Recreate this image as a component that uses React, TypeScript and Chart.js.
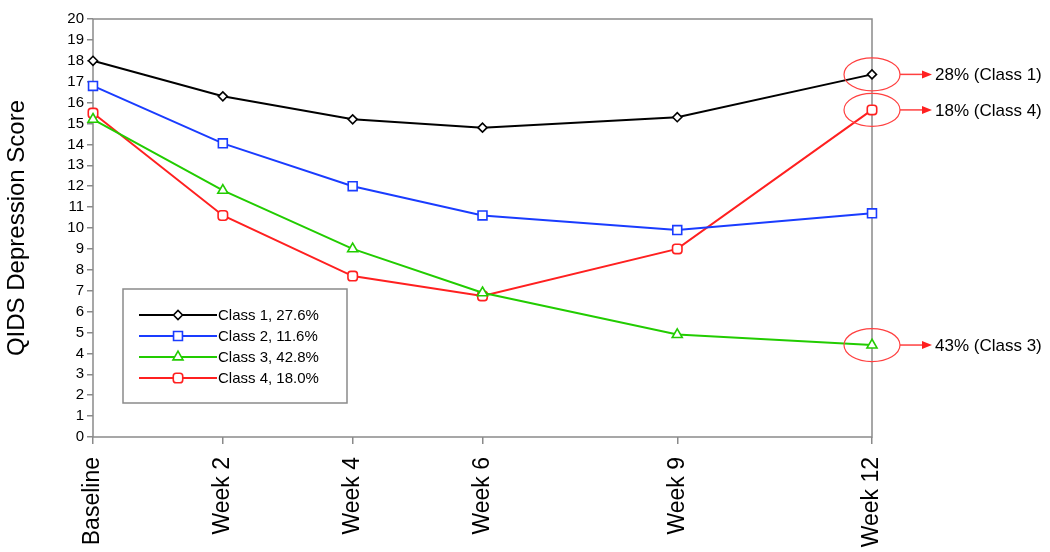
import React, { useEffect, useRef } from 'react';
import { Chart, registerables } from 'chart.js';
import { drawPoint } from 'chart.js/helpers';

Chart.register(...registerables);

const weeks = [0, 2, 4, 6, 9, 12];
const weekLabels = ['Baseline', 'Week 2', 'Week 4', 'Week 6', 'Week 9', 'Week 12'];
const class1 = [18.0, 16.3, 15.2, 14.8, 15.3, 17.35];
const class2 = [16.8, 14.05, 12.0, 10.6, 9.9, 10.7];
const class3 = [15.2, 11.8, 9.0, 6.9, 4.9, 4.4];
const class4 = [15.5, 10.6, 7.7, 6.75, 9.0, 15.65];
const seriesLabels = ['Class 1, 27.6%', 'Class 2, 11.6%', 'Class 3, 42.8%', 'Class 4, 18.0%'];
const callouts = ['28% (Class 1)', '18% (Class 4)', '43% (Class 3)'];
const calloutSeries = [0, 3, 2];
const yTitle = 'QIDS Depression Score';

const FONT = '"Liberation Sans", Arial, sans-serif';
const AXIS = '#8a8a8a';
const colors = ['#000000', '#1a3cff', '#22cc00', '#ff2020'];
const styles = ['rectRot', 'rect', 'triangle', 'rectRounded'];
const radii = [4.5, 6.3, 5.8, 5.5];

const decor = {
  id: 'decor',
  beforeDatasetsDraw(chart: any) {
    const { ctx, chartArea: a } = chart;
    ctx.save();
    ctx.strokeStyle = AXIS;
    ctx.lineWidth = 1.5;
    ctx.strokeRect(a.left, a.top, a.right - a.left, a.bottom - a.top);
    ctx.restore();
  },
  afterDatasetsDraw(chart: any) {
    const { ctx, chartArea: a } = chart;
    ctx.save();
    // legend box
    const bx = a.left + 30, by = a.top + 270, bw = 224, bh = 114;
    ctx.fillStyle = '#ffffff';
    ctx.fillRect(bx, by, bw, bh);
    ctx.strokeStyle = AXIS;
    ctx.lineWidth = 1.5;
    ctx.strokeRect(bx, by, bw, bh);
    chart.data.datasets.forEach((ds: any, i: number) => {
      const y = by + 26 + i * 21;
      ctx.strokeStyle = colors[i];
      ctx.lineWidth = 2;
      ctx.beginPath();
      ctx.moveTo(bx + 16, y);
      ctx.lineTo(bx + 94, y);
      ctx.stroke();
      ctx.fillStyle = '#ffffff';
      ctx.lineWidth = 1.6;
      drawPoint(ctx, { pointStyle: styles[i], radius: radii[i], rotation: 0, borderWidth: 1.6 } as any, bx + 55, y);
      ctx.fillStyle = '#000000';
      ctx.font = `15px ${FONT}`;
      ctx.textBaseline = 'middle';
      ctx.textAlign = 'left';
      ctx.fillText(ds.label, bx + 95, y + 1);
    });
    // callouts
    callouts.forEach((txt, i) => {
      const meta = chart.getDatasetMeta(calloutSeries[i]);
      const pt = meta.data[meta.data.length - 1];
      const cx = pt.x, cy = pt.y;
      ctx.strokeStyle = '#ff4040';
      ctx.lineWidth = 1.2;
      ctx.beginPath();
      ctx.ellipse(cx, cy, 28, 16.5, 0, 0, Math.PI * 2);
      ctx.stroke();
      ctx.lineWidth = 1.5;
      ctx.beginPath();
      ctx.moveTo(cx + 28, cy);
      ctx.lineTo(cx + 52, cy);
      ctx.stroke();
      ctx.fillStyle = '#ff2020';
      ctx.beginPath();
      ctx.moveTo(cx + 60, cy);
      ctx.lineTo(cx + 50, cy - 4);
      ctx.lineTo(cx + 50, cy + 4);
      ctx.closePath();
      ctx.fill();
      ctx.fillStyle = '#000000';
      ctx.font = `17px ${FONT}`;
      ctx.textBaseline = 'middle';
      ctx.textAlign = 'left';
      ctx.fillText(txt, cx + 63, cy + 1);
    });
    ctx.restore();
  },
};

export default function App() {
  const ref = useRef<HTMLCanvasElement>(null);
  useEffect(() => {
    if (!ref.current) return;
    const series = [class1, class2, class3, class4];
    const chart = new Chart(ref.current, {
      type: 'line',
      data: {
        datasets: series.map((vals, i) => ({
          label: seriesLabels[i],
          data: weeks.map((w, j) => ({ x: w, y: vals[j] })),
          borderColor: colors[i],
          backgroundColor: '#ffffff',
          borderWidth: 2,
          pointStyle: styles[i] as any,
          pointRadius: radii[i],
          pointBorderWidth: 1.6,
          pointBackgroundColor: '#ffffff',
          pointBorderColor: colors[i],
          tension: 0,
          fill: false,
          clip: false as any,
        })),
      },
      options: {
        animation: false,
        responsive: false,
        layout: { padding: { top: 19, right: 178, bottom: 0, left: 0 } },
        plugins: { legend: { display: false }, tooltip: { enabled: false } },
        scales: {
          x: {
            type: 'linear',
            min: 0,
            max: 12,
            afterBuildTicks: (s: any) => {
              s.ticks = weeks.map((v) => ({ value: v }));
            },
            afterFit: (s: any) => {
              s.height = 115;
            },
            grid: { drawOnChartArea: false, drawTicks: true, tickLength: 7, color: AXIS, lineWidth: 1.5 },
            border: { display: false },
            ticks: {
              autoSkip: false,
              minRotation: 90,
              maxRotation: 90,
              padding: 13,
              color: '#000',
              font: { size: 23, family: FONT },
              callback: (v: any) => weekLabels[weeks.indexOf(Number(v))] ?? '',
            },
          },
          y: {
            min: 0,
            max: 20,
            afterFit: (s: any) => {
              s.width = 93;
            },
            grid: { drawOnChartArea: false, drawTicks: true, tickLength: 6, color: AXIS, lineWidth: 1.5 },
            border: { display: false },
            ticks: { stepSize: 1, autoSkip: false, padding: 3, color: '#000', font: { size: 15, family: FONT } },
            title: {
              display: true,
              text: yTitle,
              color: '#000',
              font: { size: 24, family: FONT },
              padding: { top: 3, bottom: 0 },
            },
          },
        },
      },
      plugins: [decor],
    });
    return () => chart.destroy();
  }, []);
  return (
    <div style={{ position: 'absolute', left: 0, top: 0, width: 1050, height: 552, background: '#fff' }}>
      <canvas ref={ref} width={1050} height={552} style={{ display: 'block' }} />
    </div>
  );
}
